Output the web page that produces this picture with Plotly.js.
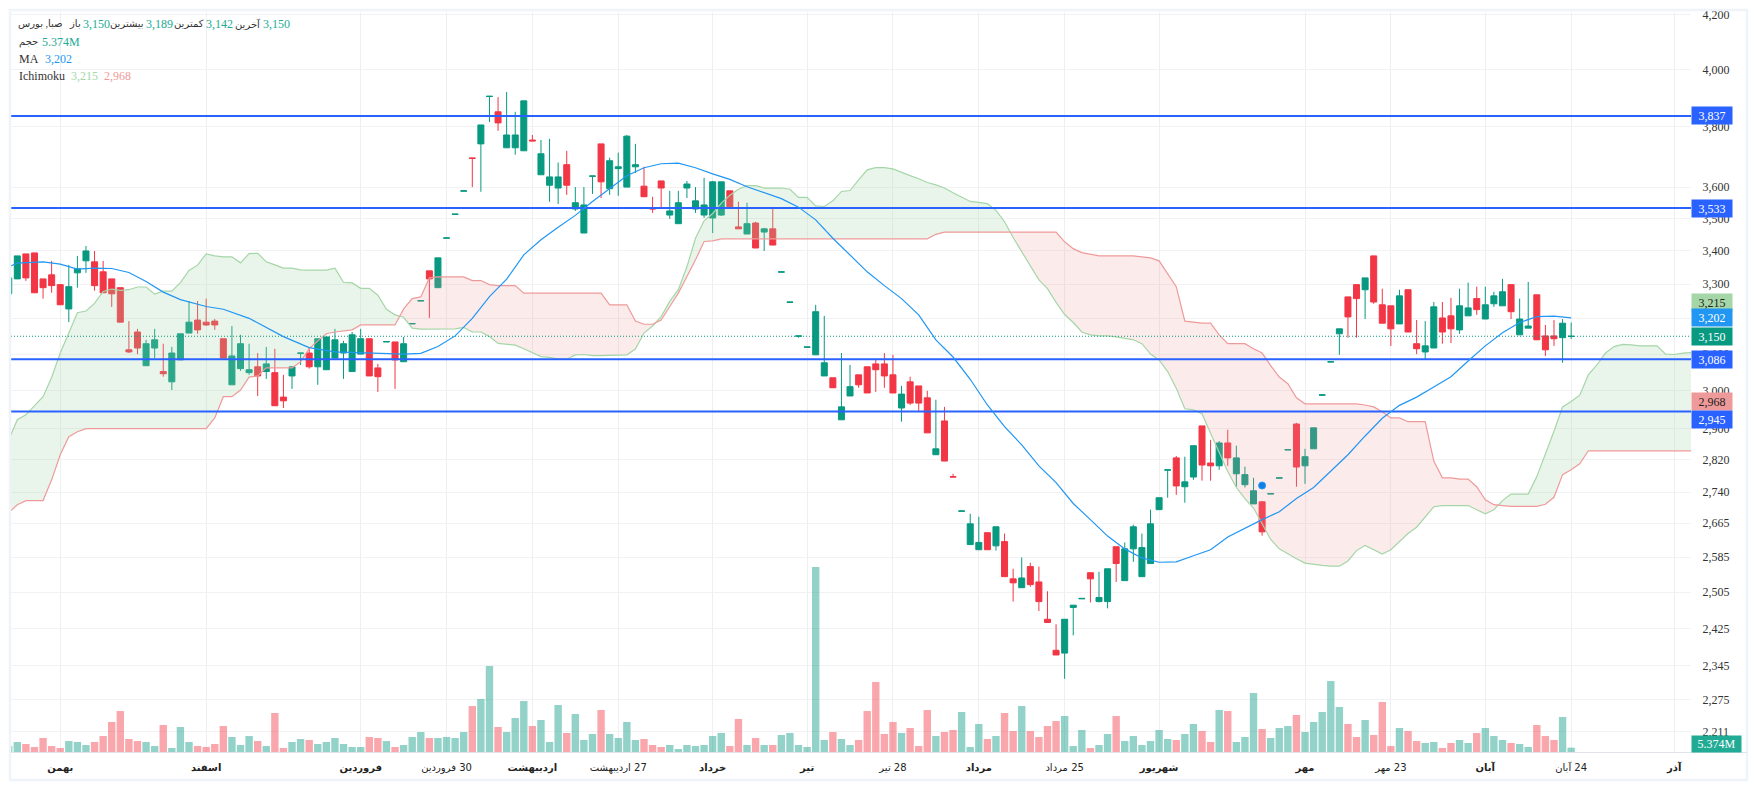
<!DOCTYPE html>
<html><head><meta charset="utf-8">
<script src="https://cdn.plot.ly/plotly-3.0.1.min.js"></script>
<style>html,body{margin:0;padding:0;background:#fff;overflow:hidden}#c{width:1757px;height:790px}</style>
</head><body><div id="c"></div>
<script>
const opens=[3272,3316,3391,3394,3316,3328,3299,3228,3334,3370,
3367,3337,3316,3290,3112,3162,3068,3117,3052,3024,
3084,3159,3196,3190,3193,3143,3016,3060,3049,3065,
3052,3049,2983,3040,3102,3103,3065,3057,3089,3103,
3052,3100,3143,3062,3134,3134,3079,3185,3251,3340,
3290,3439,3513,3587,3695,3742,3904,3851,3729,3729,
3719,3755,3640,3606,3597,3673,3530,3455,3635,3742,
3595,3660,3600,3666,3603,3534,3620,3511,3484,3597,
3530,3511,3502,3511,3588,3474,3452,3486,3458,3468,
3336,3247,3150,3119,3098,3040,3035,2923,2986,3043,
3065,3073,3073,3043,2954,3024,3013,2981,2833,2920,
2778,2693,2614,2602,2642,2611,2621,2535,2515,2563,
2528,2445,2378,2372,2471,2490,2549,2484,2484,2609,
2531,2604,2540,2570,2697,2794,2825,2753,2777,2907,
2812,2805,2863,2785,2758,2711,2716,2735,2774,2845,
2912,2805,2848,2988,3078,3157,3263,3299,3284,3385,
3240,3237,3185,3284,3129,3106,3117,3202,3208,3168,
3208,3258,3199,3243,3237,3299,3154,3173,3269,3151,
3151,3146,3149.5];
const highs=[3319,3385,3391,3394,3316,3370,3299,3358,3385,3415,
3400,3370,3316,3290,3193,3171,3140,3171,3129,3120,
3157,3251,3251,3258,3199,3143,3179,3154,3129,3103,
3120,3115,3043,3065,3103,3120,3143,3148,3171,3137,
3162,3171,3143,3073,3135,3134,3148,3186,3252,3340,
3379,3440,3514,3588,3695,3806,3905,3902,3920,3851,
3889,3772,3755,3759,3680,3719,3600,3600,3636,3742,
3696,3713,3772,3742,3666,3569,3620,3588,3588,3620,
3600,3630,3620,3617,3588,3553,3550,3490,3471,3534,
3337,3248,3151,3120,3240,3208,3035,3103,3070,3043,
3065,3087,3103,3098,3013,3038,3013,3000,2976,2957,
2785,2694,2687,2680,2642,2656,2640,2558,2584,2572,
2563,2507,2434,2445,2476,2491,2549,2551,2558,2609,
2619,2661,2640,2697,2726,2795,2830,2828,2856,2907,
2871,2868,2897,2856,2803,2775,2718,2736,2775,2846,
2915,2848,2902,2989,3079,3171,3263,3299,3319,3385,
3287,3237,3284,3284,3196,3193,3248,3248,3260,3287,
3305,3293,3293,3278,3316,3299,3258,3307,3269,3182,
3196,3199,3189];
const lows=[3272,3316,3310,3275,3258,3275,3240,3190,3290,3334,
3281,3275,3234,3190,3103,3100,3068,3089,3038,3002,
3084,3159,3157,3179,3168,3089,3016,3054,3043,2986,
3032,2960,2954,3005,3070,3060,3016,3057,3089,3032,
3052,3100,3040,2997,3134,3005,3079,3185,3251,3202,
3290,3439,3513,3587,3600,3585,3816,3786,3729,3706,
3719,3752,3640,3553,3546,3575,3524,3455,3578,3565,
3575,3572,3600,3646,3569,3518,3530,3499,3484,3565,
3518,3502,3455,3508,3534,3468,3452,3409,3400,3418,
3336,3247,3146,3119,3098,3040,3008,2923,2986,3008,
2994,2997,3008,2994,2918,2962,2946,2889,2833,2817,
2777,2693,2614,2602,2602,2600,2540,2484,2515,2517,
2463,2438,2368,2318,2410,2490,2482,2482,2469,2528,
2531,2574,2540,2570,2697,2726,2733,2714,2770,2768,
2768,2795,2805,2753,2751,2711,2635,2735,2774,2845,
2753,2760,2848,2988,3078,3098,3146,3146,3199,3243,
3187,3123,3185,3162,3100,3084,3117,3129,3131,3157,
3208,3211,3199,3234,3237,3199,3154,3173,3140,3095,
3123,3076,3142];
const closes=[3319,3385,3319,3275,3290,3296,3240,3293,3346,3400,
3296,3275,3272,3190,3106,3117,3129,3140,3046,3103,
3157,3190,3168,3182,3182,3089,3095,3129,3057,3040,
3073,2960,2973,3065,3103,3065,3143,3148,3140,3129,
3154,3143,3040,3038,3135,3084,3129,3186,3252,3316,
3379,3440,3514,3588,3694,3806,3905,3813,3772,3772,
3889,3752,3709,3633,3633,3606,3550,3543,3636,3617,
3686,3666,3768,3673,3569,3530,3597,3524,3550,3610,
3556,3543,3617,3617,3537,3468,3484,3409,3468,3418,
3337,3248,3151,3120,3220,3076,3008,2957,3011,3016,
2994,3057,3040,2994,2991,2967,2967,2889,2848,2817,
2777,2694,2663,2619,2602,2656,2540,2526,2537,2522,
2484,2438,2368,2445,2476,2491,2535,2493,2558,2570,
2604,2656,2607,2663,2726,2795,2755,2765,2856,2807,
2805,2863,2825,2825,2783,2743,2644,2736,2775,2846,
2802,2828,2902,2989,3079,3171,3205,3258,3319,3248,
3187,3171,3266,3162,3115,3123,3234,3162,3171,3237,
3231,3226,3240,3266,3278,3220,3199,3179,3140,3112,
3143,3187,3150];
const volumeM=[7.4,12.4,9.9,6.2,17.4,7.4,5.0,13.6,12.4,8.7,
12.4,19.8,37.2,50.8,16.1,13.6,12.4,7.4,33.5,5.0,
31.0,12.4,7.4,6.2,9.9,32.2,18.6,8.7,19.8,13.6,
7.4,48.4,5.0,12.4,16.1,14.9,9.9,12.4,17.4,9.9,
6.2,6.2,18.6,17.4,13.6,6.2,8.7,18.6,24.8,17.4,
17.4,18.6,17.4,24.8,57.0,65.7,106.6,31.0,24.8,42.2,
63.2,32.2,39.7,12.4,58.3,23.6,47.1,14.9,22.3,52.1,
22.3,17.4,37.2,14.9,16.1,8.7,6.2,8.7,3.7,8.7,
7.4,8.7,19.8,23.6,7.4,40.9,8.7,17.4,8.7,8.7,
21.1,23.6,8.7,6.2,229.4,14.9,24.8,16.1,8.7,14.9,
50.8,86.8,22.3,37.2,23.6,29.8,7.4,52.1,19.8,24.8,
27.3,49.6,6.2,34.7,16.1,19.8,48.4,26.0,57.0,26.0,
18.6,32.2,38.4,44.6,7.4,27.3,5.0,8.7,22.3,44.6,
13.6,19.8,8.7,13.6,27.3,16.1,14.9,22.3,34.7,26.0,
12.4,52.1,50.8,12.4,18.6,73.2,28.5,17.4,29.8,32.2,
45.9,24.8,37.2,49.6,88.0,55.8,34.7,18.6,39.7,21.1,
62.0,7.4,29.8,26.0,13.6,11.2,12.4,5.0,11.2,14.9,
11.2,23.6,29.8,19.8,14.9,11.2,9.9,6.2,33.5,19.8,
14.9,43.4,5.374];
const maIndex=[0,1,4,6,8,10,12,14,16,18,20,23,25,28,32,35,38,42,46,48,50,52,54,56,58,60,62,64,66,68,70,72,74,76,78,80,82,84,86,88,90,92,94,96,98,100,102,104,106,108,110,112,114,116,118,120,122,124,126,128,130,132,134,136,138,140,142,144,146,148,150,152,154,156,158,160,162,164,166,168,170,172,174,176,178,180,182];
const maValue=[3352,3363,3367,3360,3345,3348,3347,3335,3308,3277,3255,3235,3227,3201,3149,3118,3106,3103,3100,3102,3121,3151,3201,3264,3315,3388,3434,3473,3510,3554,3595,3637,3663,3676,3678,3663,3643,3625,3601,3582,3563,3536,3496,3439,3386,3337,3296,3258,3211,3140,3092,3031,2962,2905,2858,2805,2763,2712,2673,2634,2604,2583,2573,2574,2588,2602,2632,2653,2673,2692,2724,2751,2791,2833,2881,2927,2961,2983,3010,3038,3081,3123,3160,3189,3206,3207,3202];
const spanA=[2871,2923,2936,2961,2984,3036,3103,3159,3217,3222,
3244,3279,3286,3282,3284,3292,3292,3271,3280,3280,
3305,3341,3357,3391,3385,3382,3382,3364,3392,3393,
3367,3358,3348,3348,3343,3342,3342,3342,3348,3306,
3304,3288,3288,3268,3227,3211,3204,3173,3170,3170,
3170,3170,3171,3175,3162,3162,3149,3130,3127,3125,
3115,3103,3093,3091,3086,3086,3098,3099,3096,3096,
3096,3096,3098,3114,3159,3179,3206,3250,3284,3352,
3439,3493,3516,3549,3574,3593,3605,3605,3597,3597,
3597,3593,3567,3567,3540,3538,3556,3586,3589,3623,
3656,3663,3663,3659,3647,3637,3627,3615,3607,3597,
3582,3568,3554,3551,3547,3526,3490,3441,3398,3352,
3313,3287,3247,3212,3189,3162,3154,3151,3151,3148,
3144,3140,3129,3100,3084,3052,3007,2952,2949,2939,
2888,2837,2791,2751,2724,2701,2665,2626,2604,2592,
2581,2571,2568,2566,2564,2564,2576,2600,2612,2602,
2592,2602,2620,2640,2655,2680,2704,2707,2707,2707,
2707,2697,2687,2697,2719,2735,2735,2735,2778,2833,
2893,2957,2971,2988,3043,3070,3103,3121,3127,3126,
3123,3123,3123,3100,3099,3103,3104];
const spanB=[2690,2709,2719,2719,2719,2770,2833,2879,2892,2900,
2900,2900,2900,2900,2900,2900,2900,2900,2900,2900,
2900,2900,2900,2900,2928,2984,2984,3002,3037,3040,
3062,3062,3062,3062,3079,3115,3137,3157,3162,3165,
3168,3182,3182,3182,3182,3182,3228,3258,3263,3319,
3322,3322,3322,3322,3311,3311,3299,3296,3296,3296,
3274,3274,3274,3274,3274,3274,3274,3274,3274,3274,
3240,3240,3240,3193,3184,3184,3196,3235,3274,3323,
3373,3429,3431,3437,3437,3437,3437,3437,3437,3437,
3437,3437,3437,3437,3437,3437,3437,3437,3437,3437,
3437,3437,3437,3437,3437,3437,3437,3437,3451,3458,
3458,3458,3458,3458,3458,3458,3458,3458,3458,3458,
3458,3458,3458,3428,3407,3395,3389,3385,3385,3385,
3385,3385,3382,3379,3370,3331,3293,3193,3190,3187,
3187,3154,3129,3129,3129,3115,3103,3068,3037,3019,
2981,2965,2965,2965,2965,2965,2965,2965,2962,2957,
2944,2928,2928,2918,2918,2918,2817,2775,2775,2772,
2772,2753,2721,2709,2707,2705,2705,2705,2705,2710,
2727,2783,2795,2810,2843,2843,2843,2843,2843,2843,
2843,2843,2843,2843,2843,2843,2843];
const levels=[3837,3533,3086,2945];
const lastPrice=3150;
const priceTicks=[4200,4000,3800,3600,3500,3400,3300,3200,3100,3000,2900,2820,2740,2665,2585,2505,2425,2345,2275,2211];
const timeTickIndex=[6,23,41,51,61,71,82,93,103,113,123,134,151,161,172,182,194];
const timeTickText=['<b>بهمن</b>','<b>اسفند</b>','<b>فروردین</b>','\u200F30 فروردین','<b>اردیبهشت</b>','\u200F27 اردیبهشت','<b>خرداد</b>','<b>تیر</b>','\u200F28 تیر','<b>مرداد</b>','\u200F25 مرداد','<b>شهریور</b>','<b>مهر</b>','\u200F23 مهر','<b>آبان</b>','\u200F24 آبان','<b>آذر</b>'];
const markerIndex=[146];
const markerPrice=[2756];

const GREEN='#089981',RED='#f23645',BLUE='#2962ff',MA='#2196f3',SA='#a5d6a7',SB='#ef9a9a';
const SERIF='"Liberation Serif","DejaVu Sans",serif';
const xp=p=>(p-11)/1680, yp=p=>(752-p)/740;
const xs=opens.map((_,i)=>i);
const xr=[0.266,195.96];
const spanX=spanA.map((_,i)=>i);

// cloud polygons, split where the spans cross
function cloud(){
  const g={x:[],y:[]},r={x:[],y:[]};
  let run=null,top=[],bot=[];
  const flush=(o)=>{
    if(!top.length)return;
    const px=top.map(p=>p[0]).concat(bot.map(p=>p[0]).reverse());
    const py=top.map(p=>p[1]).concat(bot.map(p=>p[1]).reverse());
    o.x.push(...px,px[0],null);o.y.push(...py,py[0],null);
    top=[];bot=[];
  };
  for(let i=0;i<spanA.length;i++){
    const up=spanA[i]>=spanB[i];
    if(run!==null&&up!==run){
      const la0=Math.log(spanA[i-1]),lb0=Math.log(spanB[i-1]),la1=Math.log(spanA[i]),lb1=Math.log(spanB[i]);
      const t=(la0-lb0)/((la0-lb0)-(la1-lb1));
      const v=Math.exp(la0+(la1-la0)*t);
      top.push([i-1+t,v]);bot.push([i-1+t,v]);
      flush(run?g:r);
      top.push([i-1+t,v]);bot.push([i-1+t,v]);
    }
    top.push([i,spanA[i]]);bot.push([i,spanB[i]]);
    run=up;
  }
  flush(run?g:r);
  return {g,r};
}
const cl=cloud();

const traces=[
 {type:'bar',x:xs,y:volumeM,yaxis:'y',marker:{color:opens.map((o,i)=>closes[i]>=o?'rgba(8,153,129,.44)':'rgba(242,54,69,.44)'),line:{width:0}},hoverinfo:'skip'},
 {type:'scatter',mode:'lines',x:cl.g.x,y:cl.g.y,yaxis:'y2',fill:'toself',fillcolor:'rgba(165,214,167,.24)',line:{width:0},hoverinfo:'skip'},
 {type:'scatter',mode:'lines',x:cl.r.x,y:cl.r.y,yaxis:'y2',fill:'toself',fillcolor:'rgba(239,154,154,.2)',line:{width:0},hoverinfo:'skip'},
 {type:'scatter',mode:'lines',x:spanX,y:spanA,yaxis:'y2',line:{color:SA,width:1.2},hoverinfo:'skip'},
 {type:'scatter',mode:'lines',x:spanX,y:spanB,yaxis:'y2',line:{color:SB,width:1.2},hoverinfo:'skip'},
 {type:'scatter',mode:'lines',x:xr,y:[lastPrice,lastPrice],yaxis:'y2',line:{color:GREEN,width:1,dash:'1px,2px'},hoverinfo:'skip'}
];
levels.forEach(v=>traces.push({type:'scatter',mode:'lines',x:xr,y:[v,v],yaxis:'y2',line:{color:BLUE,width:2},hoverinfo:'skip'}));
traces.push({type:'scatter',mode:'lines',x:maIndex,y:maValue,yaxis:'y2',line:{color:MA,width:1.2},hoverinfo:'skip'});
traces.push({type:'candlestick',x:xs,open:opens,high:highs,low:lows,close:closes,yaxis:'y2',whiskerwidth:0,
  increasing:{line:{color:GREEN,width:1},fillcolor:GREEN},decreasing:{line:{color:RED,width:1},fillcolor:RED},hoverinfo:'skip'});
traces.push({type:'scatter',mode:'markers',x:markerIndex,y:markerPrice,yaxis:'y2',marker:{color:'#0f7fe6',size:7,line:{color:'#2196f3',width:1}},hoverinfo:'skip'});

const fmt=v=>v.toLocaleString('en-US');
const anns=[];
function tag(v,bg,fg,shift){
  anns.push({xref:'paper',yref:'y2',x:xp(1691),y:Math.log10(v),xanchor:'left',yanchor:'middle',yshift:shift||0,text:fmt(v),showarrow:false,
   width:40,height:17,borderpad:0,bgcolor:bg,align:'center',font:{family:SERIF,size:12,color:fg}});
}
tag(3215,SA,'#222',11);
tag(3202,MA,'#fff');
tag(lastPrice,GREEN,'#fff');
tag(3837,BLUE,'#fff');tag(3533,BLUE,'#fff');
tag(2968,SB,'#222',1);
tag(2945,BLUE,'#fff',-8);
tag(3086,BLUE,'#fff');
anns.push({xref:'paper',yref:'paper',x:xp(1691),y:yp(744),xanchor:'left',yanchor:'middle',text:'5.374M',showarrow:false,width:49,height:16,borderpad:0,bgcolor:'#22ab94',align:'center',font:{family:SERIF,size:12,color:'#fff'}});

function lab(px,py,text,color,anchor,size){
  anns.push({xref:'paper',yref:'paper',x:xp(px),y:yp(py),xanchor:anchor||'left',yanchor:'middle',text:text,showarrow:false,borderpad:0,font:{family:SERIF,size:size||12,color:color}});
}
const NUM='#22ab94',TXT='#333',AR=10;
lab(64,24,'صبا, بورس',TXT,'right',AR);
lab(82,24,'باز',TXT,'right',AR);lab(82,24,fmt(3150),NUM);
lab(145,24,'بیشترین',TXT,'right',AR);lab(145,24,fmt(3189),NUM);
lab(205,24,'کمترین',TXT,'right',AR);lab(205,24,fmt(3142),NUM);
lab(262,24,'آخرین',TXT,'right',AR);lab(262,24,fmt(3150),NUM);
lab(18,42,'حجم',TXT,'left',AR);lab(41,42,'5.374M',NUM);
lab(18,59,'MA',TXT);lab(44,59,fmt(3202),MA);
lab(18,76,'Ichimoku',TXT);lab(70,76,fmt(3215),SA);lab(103,76,fmt(2968),SB);

const frame='#f0f3fa';
const layout={width:1757,height:790,margin:{l:11,r:66,t:12,b:38,autoexpand:false},paper_bgcolor:'#fff',plot_bgcolor:'#fff',showlegend:false,hovermode:false,boxgap:0.3,boxgroupgap:0,bargap:0.14,
 xaxis:{type:'linear',range:xr,tickmode:'array',tickvals:timeTickIndex,ticktext:timeTickText,showgrid:true,gridcolor:'#eeeff1',gridwidth:1,zeroline:false,showline:false,ticks:'outside',ticklen:6,tickcolor:'rgba(0,0,0,0)',tickfont:{family:'"DejaVu Sans",sans-serif',size:10,color:'#222'},rangeslider:{visible:false},fixedrange:true},
 yaxis:{range:[0,917.6],visible:false,showgrid:false,zeroline:false,fixedrange:true},
 yaxis2:{type:'log',overlaying:'y',side:'right',anchor:'x',range:[Math.log10(2171),Math.log10(4211)],tickmode:'array',tickvals:priceTicks,ticktext:priceTicks.map(fmt),showgrid:true,gridcolor:'#f2f2f4',gridwidth:1,zeroline:false,showline:false,ticks:'outside',ticklen:8,tickcolor:'rgba(0,0,0,0)',tickfont:{family:SERIF,size:12,color:'#333'},fixedrange:true},
 annotations:anns,
 shapes:[
  {type:'rect',xref:'paper',yref:'paper',x0:xp(10),x1:xp(1747),y0:yp(780),y1:yp(10),line:{color:frame,width:2.5},fillcolor:'rgba(0,0,0,0)'},
  {type:'line',xref:'paper',yref:'paper',x0:xp(11),x1:xp(1747),y0:yp(752.5),y1:yp(752.5),line:{color:'#e0e3eb',width:1}}
 ]
};
Plotly.newPlot('c',traces,layout,{displayModeBar:false,staticPlot:true});
</script></body></html>
